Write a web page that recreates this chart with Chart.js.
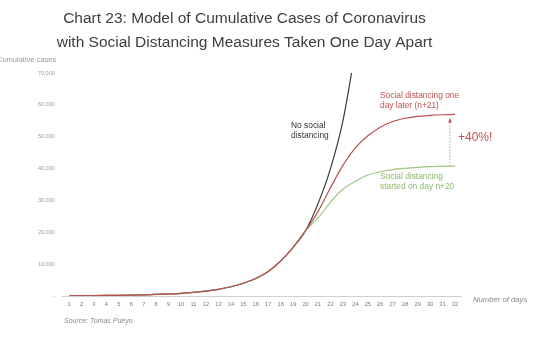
<!DOCTYPE html>
<html>
<head>
<meta charset="utf-8">
<script src="https://cdn.jsdelivr.net/npm/chart.js@4"></script>
<style>
  html, body { margin: 0; padding: 0; background: #fff; }
  #wrap { width: 540px; height: 339px; position: relative; }
</style>
</head>
<body>
<div id="wrap"><canvas id="chart"></canvas></div>
<script>
// x axis: days
const days = ['1','2','3','4','5','6','7','8','9','10','11','12','13','14','15','16',
              '17','18','19','20','21','22','23','24','25','26','27','28','29','30','31','32'];

// shared growth, days 1-20
const sharedCases = [80, 100, 130, 170, 220, 290, 380, 500, 650, 850,
                     1150, 1550, 2100, 2900, 4000, 5500, 7700, 11000, 15300, 20500];

// tails from day 21 on
const noDistancingTail = [29000, 40000, 55000, 77000];
const oneDayLaterTail  = [26500, 34000, 41000, 46500, 50300, 53000, 54800, 55800, 56400, 56700, 56900, 57000];
const day20Tail        = [24500, 29500, 33500, 36000, 38000, 39000, 39700, 40100, 40400, 40600, 40700, 40800];

const yTicks = [0, 10000, 20000, 30000, 40000, 50000, 60000, 70000];

const noDistancing = [...sharedCases, ...noDistancingTail];
const oneDayLater = [...sharedCases, ...oneDayLaterTail];
const startedDay20 = [...sharedCases, ...day20Tail];

// gap marker between the two plateaus (day 31.6)
const gapDay = 31.6;
const gapFrom = 40800;
const gapTo = 55600;

const FONT = '"Liberation Sans", Arial, sans-serif';
const RED = '#c0504d';
const GREEN = '#8db96c';

const notes = {
    id: 'notes',
    afterDraw(chart) {
        const ctx = chart.ctx;
        const x = chart.scales.x, y = chart.scales.y;
        ctx.save();
        ctx.textBaseline = 'middle';
        ctx.textAlign = 'left';

        ctx.font = '7.5px ' + FONT;
        ctx.fillStyle = '#999';
        ctx.fillText('Cumulative cases', -3, 60);

        ctx.font = 'italic 7.7px ' + FONT;
        ctx.fillStyle = '#888';
        ctx.fillText('Number of days', 473, 300);
        ctx.font = 'italic 7px ' + FONT;
        ctx.fillText('Source: Tomas Pueyo', 64, 321);

        ctx.font = '8.4px ' + FONT;
        ctx.fillStyle = '#333';
        ctx.fillText('No social', 291, 126);
        ctx.fillText('distancing', 291, 136);

        ctx.fillStyle = RED;
        ctx.fillText('Social distancing one', 380, 96);
        ctx.fillText('day later (n+21)', 380, 106);

        ctx.fillStyle = GREEN;
        ctx.fillText('Social distancing', 380, 177);
        ctx.fillText('started on day n+20', 380, 187);

        ctx.font = '12px ' + FONT;
        ctx.fillStyle = RED;
        ctx.fillText('+40%!', 458, 138);

        // dotted arrow
        const ax = x.getPixelForValue(gapDay - 1);
        const y0 = y.getPixelForValue(gapFrom);
        const y1 = y.getPixelForValue(gapTo);
        ctx.strokeStyle = '#d49a9a';
        ctx.lineWidth = 1;
        ctx.setLineDash([1.5, 1.5]);
        ctx.beginPath();
        ctx.moveTo(ax, y0);
        ctx.lineTo(ax, y1 + 3);
        ctx.stroke();
        ctx.setLineDash([]);
        ctx.fillStyle = '#b24a4a';
        ctx.beginPath();
        ctx.moveTo(ax, y1 - 1);
        ctx.lineTo(ax - 1.8, y1 + 3.5);
        ctx.lineTo(ax + 1.8, y1 + 3.5);
        ctx.closePath();
        ctx.fill();
        ctx.restore();
    }
};

new Chart(document.getElementById('chart'), {
    type: 'line',
    data: {
        labels: days,
        // first dataset is drawn on top
        datasets: [
            { label: 'Social distancing one day later (n+21)', data: oneDayLater, borderColor: '#bb4f52' },
            { label: 'Social distancing started on day n+20', data: startedDay20, borderColor: '#9cc683' },
            { label: 'No social distancing', data: noDistancing, borderColor: '#3a3a3a' }
        ]
    },
    options: {
        responsive: true,
        maintainAspectRatio: false,
        animation: false,
        datasets: {
            line: {
                borderWidth: 1.2,
                pointRadius: 0,
                fill: false,
                cubicInterpolationMode: 'monotone',
                spanGaps: false
            }
        },
        layout: { padding: { left: 0, right: 51, top: 0, bottom: 0 } },
        plugins: {
            legend: { display: false },
            tooltip: { enabled: false },
            title: {
                display: true,
                text: ['Chart 23: Model of Cumulative Cases of Coronavirus',
                       'with Social Distancing Measures Taken One Day Apart'],
                color: '#3d3d3d',
                font: { family: FONT, size: 15.5, weight: 'normal', lineHeight: 1.55 },
                padding: { top: 7, bottom: 18 }
            }
        },
        scales: {
            x: {
                offset: true,
                grid: { display: false, drawTicks: false },
                border: { display: true, color: '#cfcfcf', dash: [1, 2] },
                ticks: {
                    autoSkip: false,
                    maxRotation: 0,
                    padding: 5,
                    color: '#777',
                    font: { family: FONT, size: 5.7 }
                },
                afterFit: s => { s.height = 43; }
            },
            y: {
                min: 0,
                max: 70000,
                grid: { display: false, drawTicks: false },
                border: { display: false },
                afterBuildTicks: s => { s.ticks = yTicks.map(v => ({ value: v })); },
                ticks: {
                    padding: 8,
                    color: '#999',
                    font: { family: FONT, size: 5.5 },
                    callback: v => v === 0 ? '-' : v.toLocaleString('en-US')
                },
                afterFit: s => { s.width = 62.8; }
            },
            // empty right-hand spacer so the title centres like the original
            yRight: {
                position: 'right',
                grid: { display: false, drawTicks: false },
                border: { display: false },
                ticks: { display: false },
                afterFit: s => { s.width = 27.8; }
            }
        }
    },
    plugins: [notes]
});
</script>
</body>
</html>
